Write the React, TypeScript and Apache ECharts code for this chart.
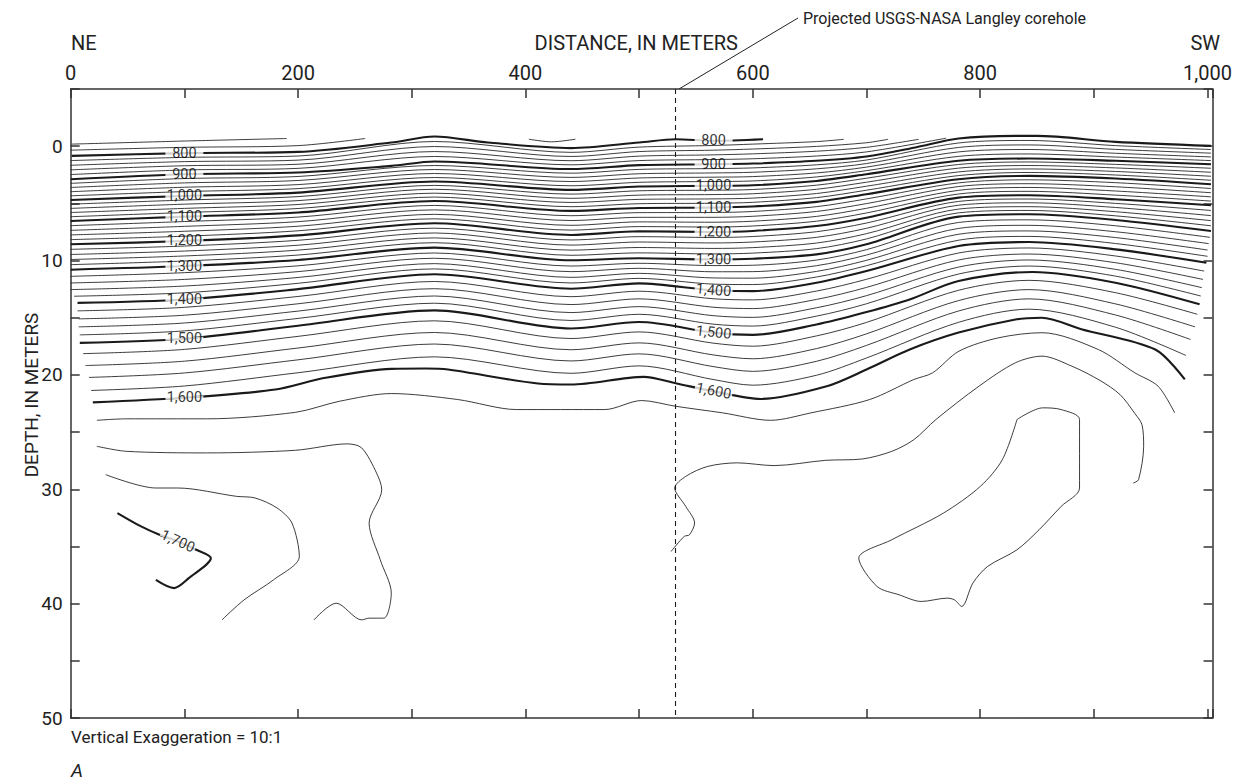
import { useEffect, useRef } from 'react';
import * as echarts from 'echarts';

const FONT = "Roboto, 'DejaVu Sans Condensed', sans-serif";
const INK = '#1a1a1a';

// Each contour: [distance (m), depth (m)] pairs.
const c760 = [[0.9, -0.18], [100, -0.45], [190, -0.67]];
const c780 = [[0, 0.35], [100, 0.1], [200, -0.05], [259, -0.67]];
const c780b = [[403, -0.61], [423, -0.38], [444, -0.61]];
const c800 = [[0.9, 0.85], [100, 0.61], [200, 0.5], [282, -0.32], [320, -0.85], [367, -0.32], [440, 0.17], [500, -0.32], [532, -0.61], [565, -0.47], [609, -0.61]];
const c820 = [[0, 1.26], [100, 0.98], [200, 0.86], [320, -0.41], [440, 0.54], [500, 0.08], [565, -0.06], [600, -0.18], [656, -0.4], [680, -0.6]];
const c840 = [[0, 1.67], [100, 1.35], [200, 1.22], [320, 0.03], [440, 0.9], [500, 0.47], [565, 0.35], [600, 0.25], [656, 0.02], [700, -0.3], [719, -0.6]];
const c860 = [[0, 2.07], [100, 1.71], [200, 1.58], [320, 0.47], [440, 1.27], [500, 0.87], [565, 0.76], [600, 0.67], [656, 0.44], [700, 0.1], [746, -0.6]];
const c880 = [[0, 2.48], [100, 2.08], [200, 1.94], [320, 0.9], [440, 1.63], [500, 1.26], [565, 1.17], [600, 1.1], [656, 0.86], [700, 0.5], [770, -0.7]];
const c900 = [[0, 2.89], [100, 2.45], [200, 2.3], [282, 1.72], [320, 1.34], [440, 2.0], [500, 1.66], [565, 1.58], [600, 1.52], [656, 1.28], [700, 0.9], [743, 0.11], [781, -0.67], [831, -0.9], [850, -0.9], [919, -0.38], [1003, -0.03]];
const c920 = [[0, 3.25], [100, 2.83], [200, 2.65], [320, 1.69], [440, 2.36], [500, 2.03], [565, 1.96], [600, 1.9], [656, 1.63], [700, 1.21], [781, -0.28], [843, -0.5], [919, -0.05], [1003, 0.29]];
const c940 = [[0, 3.61], [100, 3.21], [200, 3.0], [320, 2.04], [440, 2.73], [500, 2.41], [565, 2.34], [600, 2.28], [656, 1.98], [700, 1.52], [781, 0.11], [843, -0.11], [919, 0.28], [1003, 0.61]];
const c960 = [[0, 3.98], [100, 3.59], [200, 3.36], [320, 2.39], [440, 3.09], [500, 2.78], [565, 2.71], [600, 2.66], [656, 2.34], [700, 1.83], [781, 0.5], [843, 0.29], [919, 0.62], [1003, 0.94]];
const c980 = [[0, 4.34], [100, 3.97], [200, 3.71], [320, 2.74], [440, 3.46], [500, 3.16], [565, 3.09], [600, 3.04], [656, 2.69], [700, 2.14], [781, 0.89], [843, 0.68], [919, 0.95], [1003, 1.26]];
const c1000 = [[0, 4.7], [100, 4.35], [200, 4.06], [320, 3.09], [440, 3.82], [500, 3.53], [565, 3.47], [600, 3.42], [656, 3.04], [700, 2.45], [781, 1.28], [843, 1.08], [919, 1.28], [1003, 1.58]];
const c1020 = [[0, 5.07], [100, 4.71], [200, 4.41], [320, 3.43], [440, 4.19], [500, 3.9], [565, 3.85], [600, 3.79], [656, 3.41], [700, 2.8], [781, 1.6], [843, 1.38], [919, 1.59], [1003, 1.93]];
const c1040 = [[0, 5.44], [100, 5.07], [200, 4.76], [320, 3.77], [440, 4.56], [500, 4.28], [565, 4.23], [600, 4.16], [656, 3.77], [700, 3.15], [781, 1.92], [843, 1.69], [919, 1.9], [1003, 2.28]];
const c1060 = [[0, 5.8], [100, 5.44], [200, 5.1], [320, 4.11], [440, 4.92], [500, 4.65], [565, 4.61], [600, 4.54], [656, 4.14], [700, 3.5], [781, 2.25], [843, 1.99], [919, 2.21], [1003, 2.63]];
const c1080 = [[0, 6.17], [100, 5.8], [200, 5.45], [320, 4.45], [440, 5.29], [500, 5.03], [565, 4.99], [600, 4.91], [656, 4.5], [700, 3.85], [781, 2.57], [843, 2.3], [919, 2.52], [1003, 2.98]];
const c1100 = [[0, 6.54], [100, 6.16], [200, 5.8], [320, 4.79], [440, 5.66], [500, 5.4], [565, 5.37], [600, 5.28], [656, 4.87], [700, 4.2], [781, 2.89], [843, 2.6], [919, 2.83], [1003, 3.33]];
const c1120 = [[0, 6.95], [100, 6.59], [200, 6.2], [320, 5.18], [440, 6.08], [500, 5.81], [565, 5.8], [600, 5.71], [656, 5.29], [700, 4.61], [781, 3.21], [843, 2.94], [919, 3.19], [1003, 3.7]];
const c1140 = [[0, 7.36], [100, 7.01], [200, 6.6], [320, 5.57], [440, 6.5], [500, 6.22], [565, 6.22], [600, 6.13], [656, 5.71], [700, 5.02], [781, 3.53], [843, 3.28], [919, 3.55], [1003, 4.07]];
const c1160 = [[0, 7.76], [100, 7.44], [200, 7.0], [320, 5.96], [440, 6.92], [500, 6.62], [565, 6.65], [600, 6.56], [656, 6.14], [700, 5.43], [781, 3.86], [843, 3.61], [919, 3.92], [1003, 4.43]];
const c1180 = [[0, 8.17], [100, 7.87], [200, 7.4], [320, 6.35], [440, 7.34], [500, 7.03], [565, 7.07], [600, 6.98], [656, 6.56], [700, 5.84], [781, 4.18], [843, 3.95], [919, 4.28], [1003, 4.8]];
const c1200 = [[0, 8.58], [100, 8.29], [200, 7.8], [320, 6.74], [440, 7.76], [500, 7.44], [565, 7.5], [600, 7.41], [656, 6.98], [700, 6.25], [781, 4.5], [843, 4.29], [919, 4.64], [1003, 5.17]];
const c1220 = [[0, 9.02], [100, 8.73], [200, 8.23], [320, 7.17], [440, 8.2], [500, 7.91], [565, 7.98], [600, 7.9], [656, 7.48], [700, 6.72], [781, 4.83], [843, 4.62], [919, 5.0], [1003, 5.62]];
const c1240 = [[0, 9.47], [100, 9.17], [200, 8.66], [320, 7.59], [440, 8.65], [500, 8.38], [565, 8.46], [600, 8.38], [656, 7.97], [700, 7.18], [781, 5.16], [843, 4.95], [919, 5.36], [1003, 6.07]];
const c1260 = [[0, 9.91], [100, 9.6], [200, 9.09], [320, 8.02], [440, 9.09], [500, 8.86], [565, 8.94], [600, 8.87], [656, 8.47], [700, 7.65], [781, 5.5], [843, 5.29], [919, 5.73], [1003, 6.51]];
const c1280 = [[0, 10.36], [100, 10.04], [200, 9.52], [320, 8.44], [440, 9.54], [500, 9.33], [565, 9.42], [600, 9.35], [656, 8.96], [700, 8.11], [781, 5.83], [843, 5.62], [919, 6.09], [1003, 6.96]];
const c1300 = [[0, 10.8], [100, 10.48], [200, 9.95], [320, 8.87], [440, 9.98], [500, 9.8], [565, 9.9], [600, 9.84], [656, 9.46], [700, 8.58], [781, 6.16], [843, 5.95], [919, 6.45], [1003, 7.41]];
const c1320 = [[0, 11.38], [100, 11.06], [200, 10.46], [320, 9.34], [440, 10.48], [500, 10.24], [565, 10.44], [600, 10.41], [656, 9.96], [700, 9.05], [781, 6.67], [843, 6.44], [919, 6.96], [1002, 7.97]];
const c1340 = [[0, 11.96], [100, 11.65], [200, 10.97], [320, 9.8], [440, 10.97], [500, 10.68], [565, 10.98], [600, 10.97], [656, 10.45], [700, 9.52], [781, 7.19], [843, 6.92], [919, 7.48], [1001, 8.52]];
const c1360 = [[0, 12.54], [100, 12.23], [200, 11.48], [320, 10.27], [440, 11.47], [500, 11.12], [565, 11.52], [600, 11.54], [656, 10.95], [700, 9.98], [781, 7.7], [843, 7.41], [919, 7.99], [1000, 9.08]];
const c1380 = [[3, 13.12], [100, 12.82], [200, 11.99], [320, 10.73], [440, 11.96], [500, 11.56], [565, 12.06], [600, 12.1], [656, 11.44], [700, 10.45], [781, 8.22], [843, 7.89], [919, 8.51], [1000, 9.63]];
const c1400 = [[6, 13.7], [100, 13.4], [200, 12.5], [320, 11.2], [440, 12.46], [500, 12.0], [565, 12.6], [600, 12.67], [656, 11.94], [700, 10.92], [781, 8.73], [843, 8.38], [919, 9.02], [999, 10.19]];
const c1420 = [[6, 14.4], [100, 14.09], [200, 13.14], [320, 11.83], [440, 13.16], [500, 12.68], [565, 13.34], [600, 13.44], [656, 12.67], [700, 11.64], [781, 9.34], [843, 8.9], [919, 9.6], [997, 10.92]];
const c1440 = [[7, 15.1], [100, 14.78], [200, 13.78], [320, 12.46], [440, 13.85], [500, 13.35], [565, 14.08], [600, 14.2], [656, 13.4], [700, 12.35], [781, 9.95], [843, 9.43], [919, 10.19], [996, 11.65]];
const c1460 = [[7, 15.8], [100, 15.46], [200, 14.42], [320, 13.1], [440, 14.55], [500, 14.03], [565, 14.82], [600, 14.97], [656, 14.13], [700, 13.07], [781, 10.57], [843, 9.95], [919, 10.77], [995, 12.37]];
const c1480 = [[8, 16.5], [100, 16.15], [200, 15.06], [320, 13.73], [440, 15.24], [500, 14.7], [565, 15.56], [600, 15.73], [656, 14.86], [700, 13.78], [781, 11.18], [843, 10.48], [919, 11.36], [994, 13.1]];
const c1500 = [[8, 17.2], [100, 16.84], [200, 15.7], [320, 14.36], [440, 15.94], [500, 15.38], [565, 16.3], [600, 16.5], [656, 15.59], [700, 14.5], [738, 13.4], [781, 11.79], [846, 11.0], [919, 11.94], [993, 13.83]];
const c1520 = [[11, 18.14], [100, 17.77], [200, 16.63], [320, 15.27], [440, 16.82], [500, 16.24], [565, 17.22], [600, 17.49], [656, 16.59], [700, 15.41], [781, 12.6], [843, 11.73], [919, 12.81], [991, 14.7]];
const c1540 = [[13, 19.18], [100, 18.8], [200, 17.65], [320, 16.29], [440, 17.8], [500, 17.2], [565, 18.25], [600, 18.59], [656, 17.7], [700, 16.41], [781, 13.5], [843, 12.54], [919, 13.79], [989, 15.8]];
const c1560 = [[16, 20.22], [100, 19.83], [200, 18.68], [320, 17.3], [440, 18.78], [500, 18.16], [565, 19.27], [600, 19.69], [656, 18.81], [700, 17.42], [781, 14.41], [843, 13.35], [919, 14.76], [985, 16.9]];
const c1580 = [[18, 21.36], [100, 20.97], [200, 19.81], [320, 18.42], [440, 19.86], [500, 19.21], [565, 20.4], [600, 20.9], [656, 20.03], [700, 18.52], [781, 15.4], [843, 14.25], [919, 15.83], [981, 18.3]];
const c1600 = [[19.5, 22.4], [100, 22.0], [180, 21.28], [224, 20.25], [282, 19.47], [312, 19.44], [332, 19.53], [411, 20.75], [440, 20.84], [504, 20.17], [533, 20.75], [565, 21.42], [607, 22.1], [665, 20.99], [700, 19.53], [738, 17.78], [781, 16.3], [831, 15.15], [854, 15.0], [889, 16.0], [954, 17.78], [980, 20.4]];
const c1620 = [[23.0, 23.97], [48.9, 23.84], [120.2, 23.84], [197.8, 23.27], [236.6, 22.3], [282.0, 21.63], [340.3, 22.15], [392.2, 23.03], [469.8, 23.03], [502.2, 22.24], [532.0, 22.74], [573.5, 23.32], [615.6, 23.97], [651.1, 23.32], [702.9, 22.15], [741.7, 20.4], [758.1, 19.82], [781.4, 17.92], [816.4, 16.75], [854.4, 16.31], [903.9, 17.78], [936.1, 19.82], [956.5, 20.99], [971.1, 23.32]];
const c1640West = [[23.0, 26.24], [48.9, 26.68], [120.2, 26.82], [197.8, 26.59], [243.2, 26.03], [255.9, 26.38], [269.0, 28.57], [273.6, 30.03], [262.5, 32.95], [272.3, 36.17], [282.0, 39.08], [275.5, 41.27], [262.5, 41.27], [255.9, 41.42], [233.5, 39.96], [214.0, 41.42]];
const c1660West = [[30.8, 28.72], [74.9, 29.89], [94.3, 29.89], [146.0, 30.62], [162.2, 30.76], [181.6, 31.64], [194.6, 32.95], [201.1, 35.88], [178.4, 37.92], [152.5, 39.67], [133.1, 41.42]];
const c1700 = [[41.1, 32.08], [61.9, 33.25], [78.1, 33.98], [94.2, 34.56], [110.4, 35.29], [123.3, 36.02], [103.9, 37.77], [91.0, 38.64], [74.9, 37.92]];
const c1640East = [[528.1, 35.44], [539.7, 34.12], [544.3, 33.98], [548.8, 32.95], [541.0, 31.5], [531.3, 29.89], [541.0, 28.87], [560.4, 28.0], [586.4, 27.69], [618.7, 27.93], [664.0, 27.47], [696.4, 27.35], [722.3, 26.68], [741.7, 25.66], [761.1, 23.9], [798.9, 20.99], [831.0, 18.94], [854.4, 18.36], [880.7, 19.24], [905.5, 20.49], [923.0, 21.72], [936.1, 23.38], [942.3, 24.35], [943.8, 26.24], [939.3, 29.16], [934.7, 29.45]];
const c1660East = [[832.4, 23.9], [855.0, 22.88], [871.2, 23.03], [887.4, 23.9], [887.4, 29.89], [871.2, 31.5], [851.8, 33.54], [832.4, 35.29], [806.5, 36.75], [793.6, 38.2], [783.8, 40.25], [777.4, 39.67], [770.9, 39.52], [748.2, 39.81], [728.8, 39.23], [709.3, 38.5], [693.2, 36.02], [722.3, 34.41], [767.7, 32.08], [800.1, 29.75], [819.5, 27.41], [832.4, 23.9]];

const boldLines = [c800, c900, c1000, c1100, c1200, c1300, c1400, c1500, c1600, c1700];
const thinLines = [
  c760, c780, c780b, c820, c840, c860, c880, c920, c940, c960, c980,
  c1020, c1040, c1060, c1080, c1120, c1140, c1160, c1180,
  c1220, c1240, c1260, c1280, c1320, c1340, c1360, c1380,
  c1420, c1440, c1460, c1480, c1520, c1540, c1560, c1580,
  c1620, c1640West, c1660West, c1640East, c1660East,
];

// contour labels: [text, distance, depth, rotation in degrees]
const westLabels: [string, number, number, number][] = [
  ['800', 100, 0.61, 0], ['900', 100, 2.45, 0], ['1,000', 100, 4.35, 0], ['1,100', 100, 6.16, 0],
  ['1,200', 100, 8.29, 0], ['1,300', 100, 10.48, 0], ['1,400', 100, 13.4, 0], ['1,500', 100, 16.84, 0],
  ['1,600', 100, 22.0, 0], ['1,700', 94.2, 34.56, -24],
];
const eastLabels: [string, number, number, number][] = [
  ['800', 565.5, -0.47, 0], ['900', 565.5, 1.58, 0], ['1,000', 565.5, 3.47, 0], ['1,100', 565.5, 5.37, 0],
  ['1,200', 565.5, 7.5, -1], ['1,300', 565.5, 9.9, -1], ['1,400', 565.5, 12.6, -5], ['1,500', 565.5, 16.3, -6],
  ['1,600', 565.5, 21.42, -11],
];

const coreholeX = 532;

function fmt(v: number) {
  return v >= 1000 ? Math.floor(v / 1000) + ',' + String(v % 1000).padStart(3, '0') : String(v);
}

export default function App() {
  const ref = useRef<HTMLDivElement>(null);
  useEffect(() => {
    if (!ref.current) return;
    const chart = echarts.init(ref.current, undefined, { renderer: 'svg' });
    const axisLine = { show: true, onZero: false, lineStyle: { color: '#333', width: 1.5 } };
    const axisTick = { show: true, inside: true, length: 9, lineStyle: { color: '#333', width: 1.5 } };
    const lineSeries = (data: number[][], bold: boolean) => ({
      type: 'line',
      data,
      xAxisIndex: 0,
      yAxisIndex: 0,
      symbol: 'none',
      smooth: 0.3,
      silent: true,
      lineStyle: { color: INK, width: bold ? 2.1 : 0.85 },
      z: bold ? 3 : 2,
    });
    const labelData = [...westLabels, ...eastLabels].map(([t, x, y, r]) => ({
      name: t,
      value: [x, y],
      label: { rotate: r },
    }));
    const option: any = {
      animation: false,
      backgroundColor: '#fff',
      grid: { left: 70.7, top: 89, width: 1147.3, height: 629, containLabel: false },
      xAxis: [
        {
          type: 'value', position: 'top', min: 0, max: 1004.4, interval: 100,
          axisLine, axisTick, splitLine: { show: false },
          axisLabel: {
            show: true, margin: 6, fontSize: 20, fontFamily: FONT, color: '#222',
            formatter: (v: number) => (Math.abs(v % 200) < 1e-6 && v <= 1000 ? fmt(v) : ''),
          },
        },
        {
          type: 'value', position: 'bottom', min: 0, max: 1004.4, interval: 100,
          axisLine, axisTick, splitLine: { show: false }, axisLabel: { show: false },
        },
      ],
      yAxis: [
        {
          type: 'value', position: 'left', inverse: true, min: -5, max: 50, interval: 5,
          axisLine, axisTick, splitLine: { show: false },
          axisLabel: {
            show: true, margin: 8, fontSize: 19, fontFamily: FONT, color: '#222',
            formatter: (v: number) => (v >= 0 && v % 10 === 0 ? String(v) : ''),
          },
        },
        {
          type: 'value', position: 'right', inverse: true, min: -5, max: 50, interval: 5,
          axisLine, axisTick, splitLine: { show: false }, axisLabel: { show: false },
        },
      ],
      series: [
        ...thinLines.map((d) => lineSeries(d, false)),
        ...boldLines.map((d) => lineSeries(d, true)),
        {
          type: 'line',
          data: [[coreholeX, -5], [coreholeX, 50]],
          symbol: 'none',
          silent: true,
          lineStyle: { color: INK, width: 1.1, type: [5, 4] },
          z: 4,
        },
        {
          type: 'scatter',
          data: labelData,
          symbolSize: 0,
          silent: true,
          z: 10,
          label: {
            show: true, position: 'inside', formatter: '{b}', fontSize: 14.5, fontFamily: FONT,
            color: '#000', backgroundColor: '#fff', width: 38, height: 4, align: 'center',
            verticalAlign: 'middle', lineHeight: 4,
          },
        },
      ],
      graphic: [
        { type: 'text', x: 71, y: 43, style: { text: 'NE', fontSize: 20, fontFamily: FONT, fill: '#222', align: 'left', verticalAlign: 'middle' } },
        { type: 'text', x: 738, y: 43, style: { text: 'DISTANCE, IN METERS', fontSize: 20, fontFamily: FONT, fill: '#222', align: 'right', verticalAlign: 'middle' } },
        { type: 'text', x: 1220, y: 43, style: { text: 'SW', fontSize: 20, fontFamily: FONT, fill: '#222', align: 'right', verticalAlign: 'middle' } },
        { type: 'line', shape: { x1: 679, y1: 89, x2: 798, y2: 18 }, style: { stroke: '#222', lineWidth: 1 } },
        { type: 'text', x: 803, y: 18, style: { text: 'Projected USGS-NASA Langley corehole', fontSize: 16, fontFamily: FONT, fill: '#222', align: 'left', verticalAlign: 'middle' } },
        { type: 'text', x: 31, y: 395, rotation: Math.PI / 2, style: { text: 'DEPTH, IN METERS', fontSize: 19, fontFamily: FONT, fill: '#222', align: 'center', verticalAlign: 'middle' } },
        { type: 'text', x: 71, y: 737, style: { text: 'Vertical Exaggeration = 10:1', fontSize: 17, fontFamily: FONT, fill: '#222', align: 'left', verticalAlign: 'middle' } },
        { type: 'text', x: 71, y: 770, style: { text: 'A', fontSize: 19, fontStyle: 'italic', fontFamily: FONT, fill: '#222', align: 'left', verticalAlign: 'middle' } },
      ],
    };
    chart.setOption(option);
    return () => chart.dispose();
  }, []);
  return <div ref={ref} style={{ position: 'fixed', left: 0, top: 0, width: 1235, height: 782, background: '#fff' }} />;
}
